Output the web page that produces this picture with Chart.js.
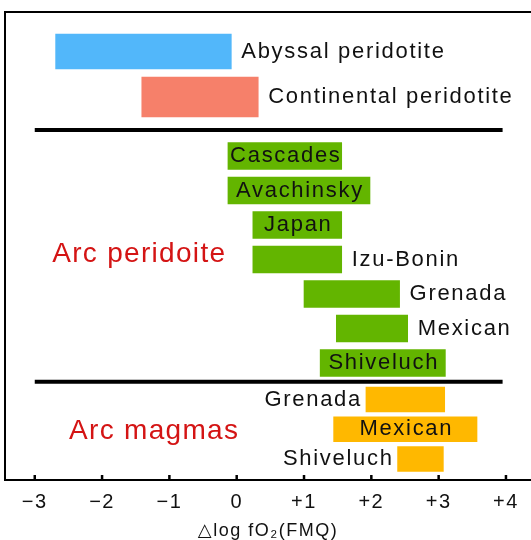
<!DOCTYPE html>
<html>
<head>
<meta charset="utf-8">
<script src="https://cdn.jsdelivr.net/npm/chart.js@4.4.1/dist/chart.umd.min.js"></script>
<style>
  html, body { margin: 0; padding: 0; background: #ffffff; }
  #wrap { width: 531px; height: 540px; }
</style>
</head>
<body>
<div id="wrap"><canvas id="c" width="531" height="540"></canvas></div>
<script>
// ΔlogfO2 (relative to FMQ) ranges: [low, high] for each setting
const mantleNames = ['Abyssal peridotite', 'Continental peridotite'];
const mantleLow   = [-2.69, -1.41];
const mantleHigh  = [-0.08, 0.32];

const arcPeridotiteNames = ['Cascades', 'Avachinsky', 'Japan', 'Izu-Bonin', 'Grenada', 'Mexican', 'Shiveluch'];
const arcPeridotiteLow   = [-0.13, -0.13, 0.24, 0.24, 1.00, 1.48, 1.24];
const arcPeridotiteHigh  = [1.56, 1.98, 1.56, 1.56, 2.42, 2.54, 3.10];

const arcMagmaNames = ['Grenada', 'Mexican', 'Shiveluch'];
const arcMagmaLow   = [1.92, 1.44, 2.39];
const arcMagmaHigh  = [3.09, 3.57, 3.07];

const xTickValues = [-3, -2, -1, 0, 1, 2, 3, 4];
const xTickLabels = ['\u22123', '\u22122', '\u22121', '0', '+1', '+2', '+3', '+4'];

const axisTitle = '\u25B3log fO\u2082(FMQ)';

// ---- layout (vertical positions in row units, 1 unit = one arc-peridotite row) ----
const ROWS_TOTAL = 13.565;
const mantleRows = { start: 1.145, step: 1.319 };
const arcRows    = { start: 4.174, step: 1 };
const magmaRows  = { start: 11.232, step: 0.862 };
const dividerRows = [3.42, 10.72];
const groupTitles = [
  { text: 'Arc peridoite', x: -2.74, row: 7.03 },
  { text: 'Arc magmas',    x: -2.49, row: 12.165 }
];

const COLORS = {
  abyssal: '#52B7FA',
  continental: '#F6806A',
  arcPeridotite: '#63B500',
  arcMagma: '#FFB800',
  groupText: '#D41414'
};

const FONT = "'Liberation Sans', Arial, 'DejaVu Sans', sans-serif";

function rows(names, low, high, layout) {
  return names.map((n, i) => ({ x: [low[i], high[i]], y: layout.start + i * layout.step }));
}

const mantleData = rows(mantleNames, mantleLow, mantleHigh, mantleRows);

const datasets = [
  {
    label: mantleNames[0],
    data: [mantleData[0]],
    backgroundColor: COLORS.abyssal,
    barThickness: 35,
    names: [mantleNames[0]],
    place: ['right']
  },
  {
    label: mantleNames[1],
    data: [mantleData[1]],
    backgroundColor: COLORS.continental,
    barThickness: 40,
    names: [mantleNames[1]],
    place: ['right']
  },
  {
    label: 'Arc peridoite',
    data: rows(arcPeridotiteNames, arcPeridotiteLow, arcPeridotiteHigh, arcRows),
    backgroundColor: COLORS.arcPeridotite,
    barThickness: 27,
    names: arcPeridotiteNames,
    place: ['in', 'in', 'in', 'right', 'right', 'right', 'in']
  },
  {
    label: 'Arc magmas',
    data: rows(arcMagmaNames, arcMagmaLow, arcMagmaHigh, magmaRows),
    backgroundColor: COLORS.arcMagma,
    barThickness: 25,
    names: arcMagmaNames,
    place: ['left', 'in', 'left']
  }
];
datasets.forEach(d => { d.grouped = false; d.borderWidth = 0; });

// frame, dividers, inward ticks and the text labels
const annotate = {
  id: 'annotate',
  beforeLayout(chart) { chart.ctx.letterSpacing = '1.5px'; },
  beforeDraw(chart) { chart.ctx.letterSpacing = '1.5px'; },
  afterDatasetsDraw(chart) {
    const ctx = chart.ctx;
    const area = chart.chartArea;
    const xs = chart.scales.x;
    const ys = chart.scales.y;
    ctx.save();
    ctx.strokeStyle = '#000';
    ctx.lineCap = 'butt';

    // dividers between groups
    ctx.lineWidth = 4;
    dividerRows.forEach(r => {
      const y = ys.getPixelForValue(r);
      ctx.beginPath();
      ctx.moveTo(xs.getPixelForValue(-3), y);
      ctx.lineTo(xs.getPixelForValue(3.95), y);
      ctx.stroke();
    });

    // frame: left, top, bottom axis line
    ctx.lineWidth = 2;
    ctx.beginPath();
    ctx.moveTo(area.left, area.top);
    ctx.lineTo(area.left, area.bottom);
    ctx.moveTo(area.left - 1, area.top);
    ctx.lineTo(chart.width, area.top);
    ctx.moveTo(area.left - 1, area.bottom);
    ctx.lineTo(chart.width, area.bottom);
    ctx.stroke();

    // inward tick marks
    ctx.lineWidth = 2.5;
    xs.ticks.forEach(t => {
      const x = xs.getPixelForValue(t.value);
      ctx.beginPath();
      ctx.moveTo(x, area.bottom);
      ctx.lineTo(x, area.bottom - 5);
      ctx.stroke();
    });

    // bar labels
    ctx.fillStyle = '#111';
    ctx.font = '22px ' + FONT;
    ctx.letterSpacing = '1.7px';
    ctx.textBaseline = 'middle';
    chart.data.datasets.forEach((ds, di) => {
      const meta = chart.getDatasetMeta(di);
      meta.data.forEach((bar, i) => {
        const lo = Math.min(bar.x, bar.base);
        const hi = Math.max(bar.x, bar.base);
        const y = bar.y;
        const where = ds.place[i];
        const text = ds.names[i];
        if (where === 'in') {
          ctx.textAlign = 'center';
          ctx.fillText(text, (lo + hi) / 2 + 1, y);
        } else if (where === 'right') {
          ctx.textAlign = 'left';
          ctx.fillText(text, hi + 10, y);
        } else {
          ctx.textAlign = 'right';
          ctx.fillText(text, lo - 4, y);
        }
      });
    });

    // group titles
    ctx.fillStyle = COLORS.groupText;
    ctx.font = '28px ' + FONT;
    ctx.letterSpacing = '1.3px';
    ctx.textAlign = 'left';
    groupTitles.forEach(g => {
      ctx.fillText(g.text, xs.getPixelForValue(g.x), ys.getPixelForValue(g.row));
    });
    ctx.restore();
  }
};

new Chart(document.getElementById('c'), {
  type: 'bar',
  data: { datasets },
  options: {
    indexAxis: 'y',
    responsive: false,
    animation: false,
    layout: { padding: { top: 12, left: 5, right: 0, bottom: 0 } },
    plugins: { legend: { display: false }, tooltip: { enabled: false } },
    scales: {
      x: {
        type: 'linear',
        position: 'bottom',
        min: -3.442,
        max: 4.372,
        grid: { display: false, drawTicks: false },
        border: { display: false },
        afterBuildTicks(scale) { scale.ticks = xTickValues.map(v => ({ value: v })); },
        afterFit(scale) { scale.height = 60; },
        ticks: {
          autoSkip: false,
          maxRotation: 0,
          padding: 10,
          color: '#111',
          font: { family: FONT, size: 20 },
          callback: (v) => xTickLabels[xTickValues.indexOf(v)]
        },
        title: {
          display: true,
          text: axisTitle,
          color: '#111',
          font: { family: FONT, size: 18, lineHeight: 1 },
          padding: { top: 0, bottom: 0 }
        }
      },
      y: {
        type: 'linear',
        display: false,
        reverse: true,
        offset: false,
        min: 0,
        max: ROWS_TOTAL
      }
    }
  },
  plugins: [annotate]
});
</script>
</body>
</html>
